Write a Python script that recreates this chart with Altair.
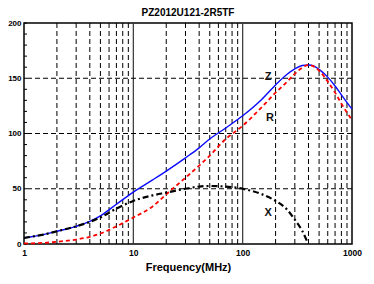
import altair as alt
import pandas as pd

# ---- data ----
freq = [1, 1.5, 2, 3, 4, 5, 7, 10, 15, 20, 30, 40, 50, 70, 100, 150, 200, 250,
        300, 350, 400, 450, 500, 600, 700, 800, 1000]
z_vals = [5.5, 8.5, 11.5, 16, 20.5, 25.5, 36, 47, 58, 66, 78, 87, 95, 105, 116,
          131, 144, 153, 158.5, 161.5, 162, 161, 158, 151, 143, 135, 122]
r_vals = [0.5, 1, 2, 4, 6.5, 9.5, 16, 24, 34, 45, 60, 71, 80, 95, 107,
          124, 137, 146, 154, 159.5, 162, 160.5, 157, 147, 137, 127, 112]
x_freq = [1, 1.5, 2, 3, 4, 5, 7, 10, 15, 20, 30, 40, 50, 70, 100, 150, 200,
          250, 300, 350, 390]
x_vals = [5.5, 8.5, 11.5, 16, 20, 24, 32, 39, 44, 46.5, 50, 52, 52.5, 52, 50,
          45, 39, 32, 22, 12, 2]

label_text = ["Z", "R", "X"]
label_freq = [171, 178, 171]
label_val = [151, 114, 28.5]

major_grid = [10, 100]
minor_grid = [m * d for d in (1, 10, 100) for m in range(2, 10)]
y_grid = [50, 100, 150]
y_minor = list(range(0, 201, 10))
x_labels = [1, 10, 100, 1000]
y_labels = [0, 50, 100, 150, 200]

title_text = "PZ2012U121-2R5TF"
x_title = "Frequency(MHz)"

FONT = "Liberation Sans"

xscale = alt.Scale(type="log", domain=[1, 1000], nice=False)
yscale = alt.Scale(domain=[0, 200], nice=False)

xaxis = alt.Axis(values=x_labels, format="d", grid=False, ticks=False,
                 domain=False, labelFont=FONT, labelFontSize=8.5,
                 labelFontWeight="bold", labelColor="black",
                 labelPadding=4, labelFlush=False, title=x_title,
                 titleFont=FONT, titleFontSize=11, titleFontWeight="bold",
                 titleColor="black", titlePadding=5)
yaxis = alt.Axis(values=y_labels, grid=False, ticks=False,
                 domain=False, labelFont=FONT, labelFontSize=8,
                 labelFontWeight="bold", labelColor="black",
                 labelPadding=3, title=None)

X = lambda: alt.X("f:Q", scale=xscale, axis=xaxis)
Y = lambda: alt.Y("v:Q", scale=yscale, axis=yaxis)

z_df = pd.DataFrame({"f": freq, "v": z_vals})
r_df = pd.DataFrame({"f": freq, "v": r_vals})
x_df = pd.DataFrame({"f": x_freq, "v": x_vals})
lab_df = pd.DataFrame({"f": label_freq, "v": label_val, "t": label_text})

z_line = alt.Chart(z_df).mark_line(
    color="#0a0aff", strokeWidth=1.4, interpolate="monotone"
).encode(x=X(), y=Y())

minor_rules = alt.Chart(pd.DataFrame({"f": minor_grid})).mark_rule(
    color="black", strokeWidth=1, strokeDash=[5, 3]
).encode(x=X())

major_rules = alt.Chart(pd.DataFrame({"f": major_grid})).mark_rule(
    color="#333333", strokeWidth=1.2
).encode(x=X())

h_rules = alt.Chart(pd.DataFrame({"v": y_grid})).mark_rule(
    color="black", strokeWidth=1, strokeDash=[5, 3]
).encode(y=Y())

y_ticks = alt.Chart(pd.DataFrame({"v": y_minor})).mark_rule(
    color="black", strokeWidth=1
).encode(y=Y(), x=alt.value(0), x2=alt.value(3))

r_line = alt.Chart(r_df).mark_line(
    color="#ff0000", strokeWidth=1.8, strokeDash=[4, 3], interpolate="monotone"
).encode(x=X(), y=Y())

x_line = alt.Chart(x_df).mark_line(
    color="black", strokeWidth=2.2, strokeDash=[6, 3, 2, 3], interpolate="monotone"
).encode(x=X(), y=Y())

labels = alt.Chart(lab_df).mark_text(
    font=FONT, fontSize=11, fontWeight="bold", color="#111111"
).encode(x=X(), y=Y(), text="t:N")

chart = alt.layer(
    minor_rules, major_rules, h_rules, y_ticks, z_line, r_line, x_line, labels
).properties(
    width=328, height=221,
    title=alt.TitleParams(title_text, font=FONT, fontSize=10, fontWeight="bold",
                          color="black", anchor="middle", offset=1),
    autosize=alt.AutoSizeParams(type="none"),
    padding={"left": 16, "top": 15, "right": 14, "bottom": 32},
).configure_view(stroke="black", strokeWidth=1.5)

chart.save("out.html", embed_options={"renderer": "svg", "actions": False})
